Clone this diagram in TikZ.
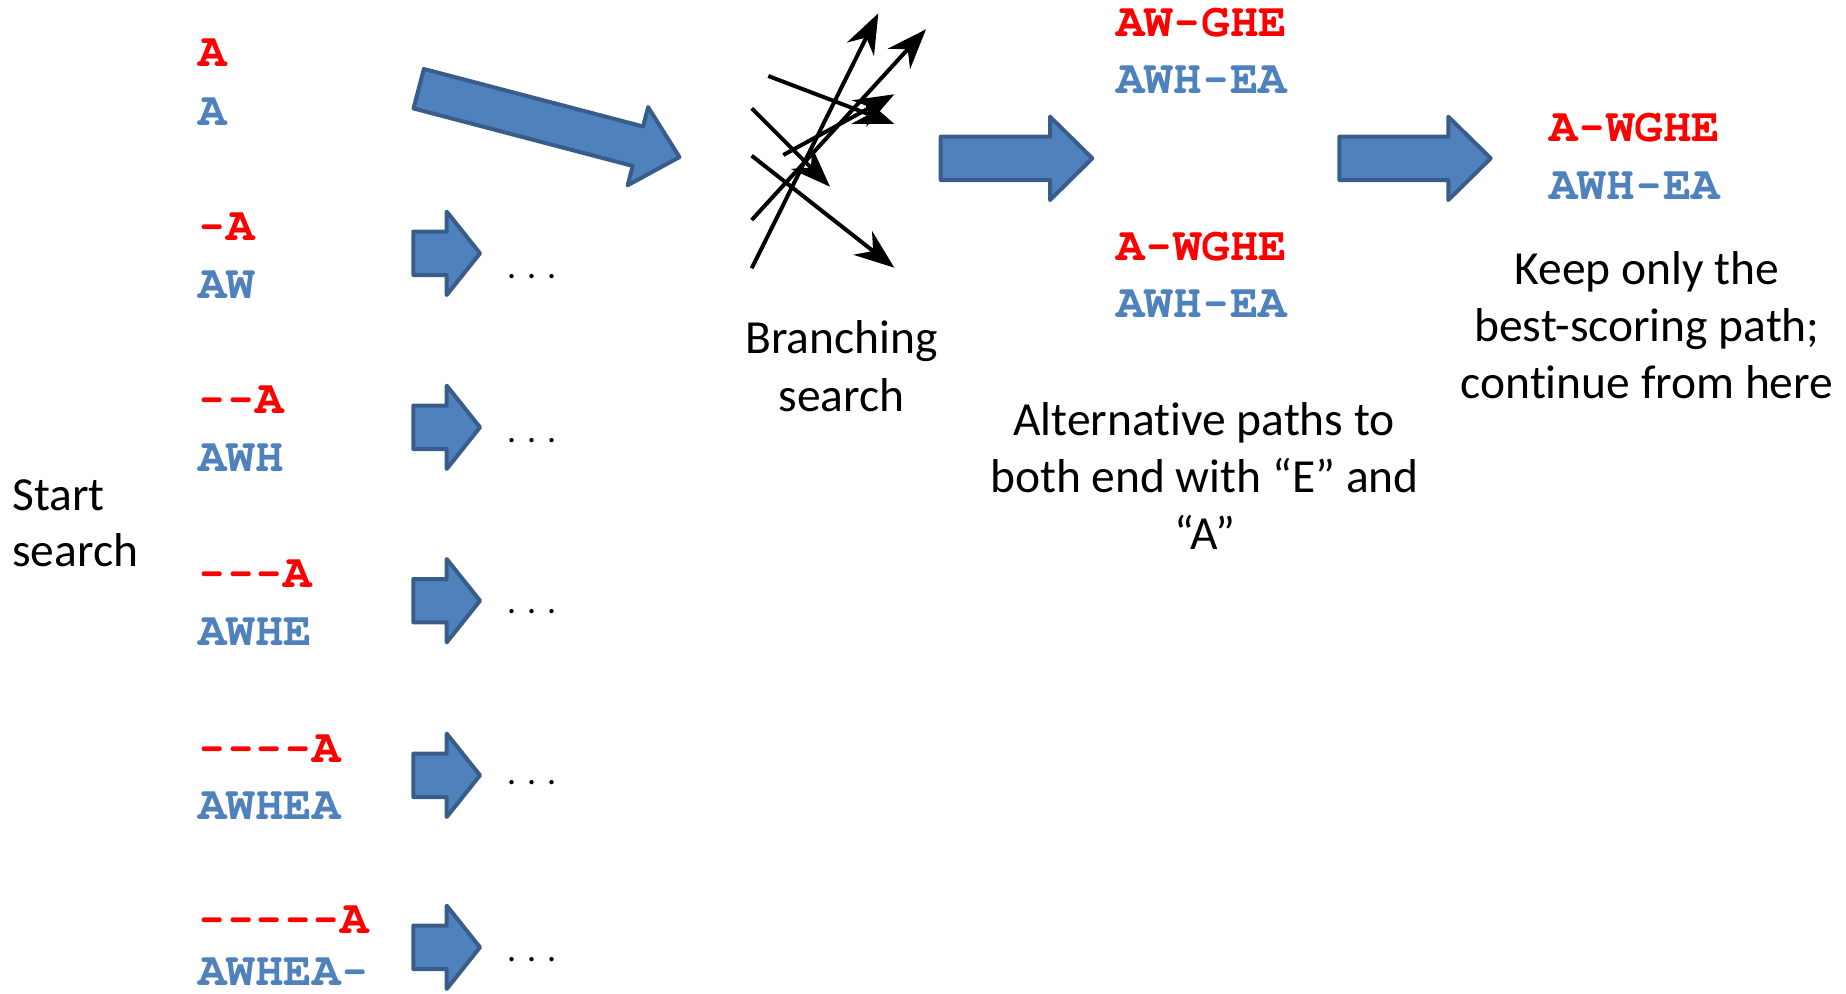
\documentclass[tikz,border=0pt]{standalone}
\usepackage[T1]{fontenc}
\usepackage{fontspec}
\setmainfont{Carlito}[RawFeature={-liga}]
\usetikzlibrary{arrows.meta}
\definecolor{txtred}{HTML}{FF0000}
\definecolor{txtblue}{HTML}{4F81BD}
\definecolor{arrfill}{HTML}{4F81BD}
\definecolor{arrline}{HTML}{385D8A}
\newcommand\seqfont{\fontencoding{T1}\fontfamily{pcr}\fontseries{b}\fontshape{n}\fontsize{47.5}{57}\selectfont}
\newcommand\lblfont{\fontsize{47.5}{57}\selectfont}
\newcommand\dotfont{\fontsize{36}{40}\selectfont}
\newcommand\dsh{\makebox[0.6em][c]{\scalebox{0.82}[1]{-}}}
\tikzset{
  seqred/.style={anchor=base west, inner sep=0pt, text=txtred, font=\seqfont},
  seqblue/.style={anchor=base west, inner sep=0pt, text=txtblue, font=\seqfont},
  lbl/.style={anchor=base, inner sep=0pt, font=\lblfont},
  lblw/.style={anchor=base west, inner sep=0pt, font=\lblfont},
  dotslbl/.style={anchor=base west, inner sep=0pt, font=\dotfont},
  blockarrow/.style={fill=arrfill, draw=arrline, line width=4pt, line join=round},
  branch/.style={line width=4pt, -{Stealth[length=40pt,width=30pt,inset=13pt]}},
}
\begin{document}
\begin{tikzpicture}[x=1pt,y=-1pt]
\useasboundingbox (0,0) rectangle (1846,993);

% left column sequences
\node[seqred]  (r0) at (198,66.7)  {A};
\node[seqblue] (b0) at (198,125)   {A};
\node[seqred]  (r1) at (198,240.7) {\dsh A};
\node[seqblue] (b1) at (198,298.3) {AW};
\node[seqred]  (r2) at (198,413.3) {\dsh\dsh A};
\node[seqblue] (b2) at (198,471.7) {AWH};
\node[seqred]  (r3) at (198,587.3) {\dsh\dsh\dsh A};
\node[seqblue] (b3) at (198,645)   {AWHE};
\node[seqred]  (r4) at (198,762)   {\dsh\dsh\dsh\dsh A};
\node[seqblue] (b4) at (198,819)   {AWHEA};
\node[seqred]  (r5) at (198,933.7) {\dsh\dsh\dsh\dsh\dsh A};
\node[seqblue] (b5) at (198,985)   {AWHEA\dsh};

% start label
\node[lblw] (start1) at (12,510)   {Start};
\node[lblw] (start2) at (12,566.7) {search};

% big diagonal arrow
\begin{scope}[shift={(418.7,88.7)}, rotate=-14.7]
\draw[blockarrow] (0,-20.4) -- (226.6,-20.4) -- (226.6,-40.4) -- (269.6,0)
  -- (226.6,40.4) -- (226.6,20.4) -- (0,20.4) -- cycle;
\end{scope}

% small arrows and dots
\foreach \ty/\dy [count=\i] in {253.3/278, 427.3/442, 600.7/613.7, 775.3/784, 947.3/961.7}{
  \draw[blockarrow] (413.3,\ty-21.7) -- (446.7,\ty-21.7) -- (446.7,\ty-41.7) -- (480,\ty)
    -- (446.7,\ty+41.7) -- (446.7,\ty+21.7) -- (413.3,\ty+21.7) -- cycle;
  \node[dotslbl] (dots\i) at (507,\dy) {. . .};
}

% branching search arrows
\coordinate (s1) at (751.7,268.3); \coordinate (e1) at (878.3,13.3);
\coordinate (s2) at (751.7,220);   \coordinate (e2) at (926,29.3);
\coordinate (s3) at (768.3,76);    \coordinate (e3) at (894.3,124);
\coordinate (s4) at (751.7,108.3); \coordinate (e4) at (830,186.7);
\coordinate (s5) at (783.3,155);   \coordinate (e5) at (894.3,94.3);
\coordinate (s6) at (751.7,155.7); \coordinate (e6) at (894.3,267.7);
\foreach \k in {1,...,6}{ \draw[branch] (s\k) -- (e\k); }

\node[lbl] (br1) at (841.6,353.8) {Branching};
\node[lbl] (br2) at (841.6,411)   {search};

% middle arrow
\draw[blockarrow] (940.7,136.7) -- (1050,136.7) -- (1050,116.7) -- (1092.3,158.3)
  -- (1050,200) -- (1050,180) -- (940.7,180) -- cycle;

% alternatives
\node[seqred]  (m1) at (1116,36.7)  {AW\dsh GHE};
\node[seqblue] (m2) at (1116,93.3)  {AWH\dsh EA};
\node[seqred]  (m3) at (1116,260.7) {A\dsh WGHE};
\node[seqblue] (m4) at (1116,317.3) {AWH\dsh EA};

\node[lbl] (alt1) at (1204,435) {Alternative paths to};
\node[lbl] (alt2) at (1204.5,492) {both end with “E” and};
\node[lbl] (alt3) at (1205,549) {“A”};

% right arrow
\draw[blockarrow] (1339.3,136.7) -- (1448.3,136.7) -- (1448.3,116.7) -- (1490.7,158.3)
  -- (1448.3,200) -- (1448.3,180) -- (1339.3,180) -- cycle;

\node[seqred]  (f1) at (1549,141.7) {A\dsh WGHE};
\node[seqblue] (f2) at (1549,199.3) {AWH\dsh EA};

\node[lbl] (k1) at (1647,284.3) {Keep only the};
\node[lbl] (k2) at (1647,341)   {best-scoring path;};
\node[lbl] (k3) at (1647,398.3) {continue from here};
\end{tikzpicture}
\end{document}
